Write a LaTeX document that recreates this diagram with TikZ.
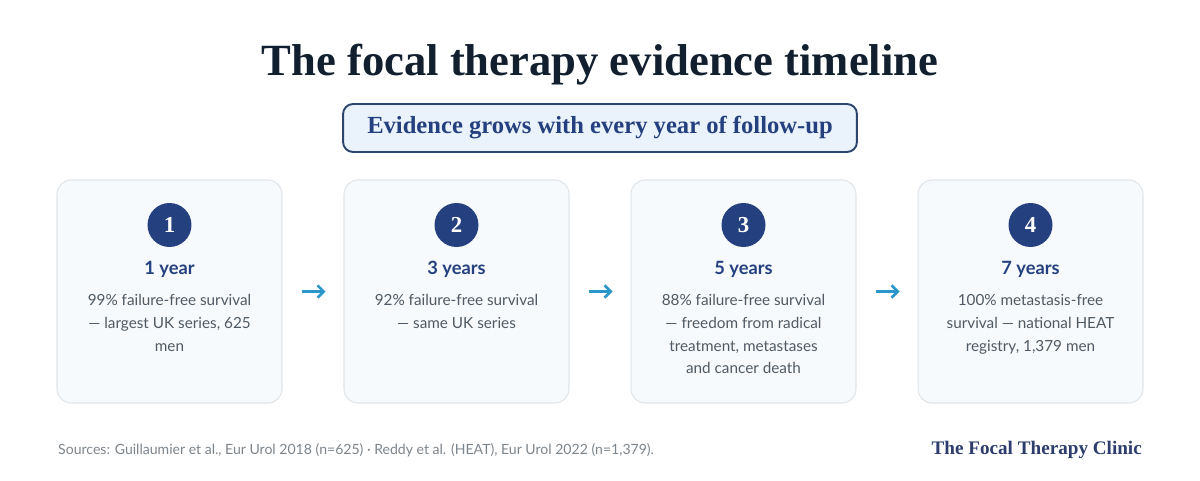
\documentclass[tikz,border=0pt]{standalone}
\usepackage{fontspec}
\setmainfont{Liberation Serif}
\setsansfont{Lato}
\usetikzlibrary{arrows.meta}
\definecolor{inkdark}{HTML}{111F2E}
\definecolor{navy}{HTML}{24407F}
\definecolor{subfill}{HTML}{EAF3FB}
\definecolor{subline}{HTML}{2A4570}
\definecolor{cardfill}{HTML}{F7FAFC}
\definecolor{cardline}{HTML}{DFE5EA}
\definecolor{desctext}{HTML}{4F5A64}
\definecolor{linkblue}{HTML}{2B96C9}
\definecolor{notegray}{HTML}{7D858C}
\definecolor{brand}{HTML}{2C3D6E}
\tikzset{
  card/.style={draw=cardline, fill=cardfill, line width=0.6pt, rounded corners=0.28cm,
    minimum width=4.5cm, minimum height=4.46cm},
  numdot/.style={circle, fill=navy, minimum size=0.88cm, inner sep=0pt,
    text=white, font=\bfseries\fontsize{13}{13}\selectfont},
  yearlbl/.style={text=navy, font=\sffamily\bfseries\fontsize{10.4}{12}\selectfont},
  desc/.style={text=desctext, align=center, font=\sffamily\fontsize{8.7}{13}\selectfont},
  link/.style={draw=linkblue, line width=1.5pt, -{Straight Barb[length=3.5pt,width=7pt]},
    shorten <=0.38cm, shorten >=0.36cm}
}

\begin{document}
\begin{tikzpicture}[x=0.02cm, y=-0.02cm]
		%%%%% START %%%%%
		
		\fill[white] (0, 0) rectangle (1200, 480);
		
		\node[text=inkdark, font=\bfseries\fontsize{25.4}{30}\selectfont] (title) at (600, 65) {The focal therapy evidence timeline};
		\node[draw=subline, fill=subfill, line width=1.1pt, rounded corners=0.2cm,
		  minimum width=10.28cm, minimum height=0.96cm, text=navy,
		  font=\bfseries\fontsize{14}{16}\selectfont] (subtitle) at (600, 128) {Evidence grows with every year of follow-up};
		
		\node[card] (c1) at (169.5, 291.5) {};
		\node[card] (c2) at (456.5, 291.5) {};
		\node[card] (c3) at (743.5, 291.5) {};
		\node[card] (c4) at (1030.5, 291.5) {};
		
		\node[numdot] (n1) at (169.5, 225) {1};
		\node[numdot] (n2) at (456.5, 225) {2};
		\node[numdot] (n3) at (743.5, 225) {3};
		\node[numdot] (n4) at (1030.5, 225) {4};
		
		\node[yearlbl] (y1) at (169.5, 269) {1 year};
		\node[yearlbl] (y2) at (456.5, 269) {3 years};
		\node[yearlbl] (y3) at (743.5, 269) {5 years};
		\node[yearlbl] (y4) at (1030.5, 269) {7 years};
		
		\node[desc, anchor=north] (d1) at (169.5, 288) {99\% failure-free survival\\— largest UK series, 625\\men};
		\node[desc, anchor=north] (d2) at (456.5, 288) {92\% failure-free survival\\— same UK series};
		\node[desc, anchor=north] (d3) at (743.5, 288) {88\% failure-free survival\\— freedom from radical\\treatment, metastases\\and cancer death};
		\node[desc, anchor=north] (d4) at (1030.5, 288) {100\% metastasis-free\\survival — national HEAT\\registry, 1,379 men};
		
		\draw[link] (c1.east) -- (c2.west);
		\draw[link] (c2.east) -- (c3.west);
		\draw[link] (c3.east) -- (c4.west);
		
		\node[anchor=west, text=notegray, font=\sffamily\fontsize{8}{9}\selectfont] (sources) at (52, 450) {Sources: Guillaumier et al., Eur Urol 2018 (n=625) · Reddy et al. (HEAT), Eur Urol 2022 (n=1,379).};
		\node[anchor=east, text=brand, font=\bfseries\fontsize{10.9}{12}\selectfont] (clinic) at (1148, 450) {The Focal Therapy Clinic};
		
		%%%%% END %%%%%
	\end{tikzpicture}
\end{document}
